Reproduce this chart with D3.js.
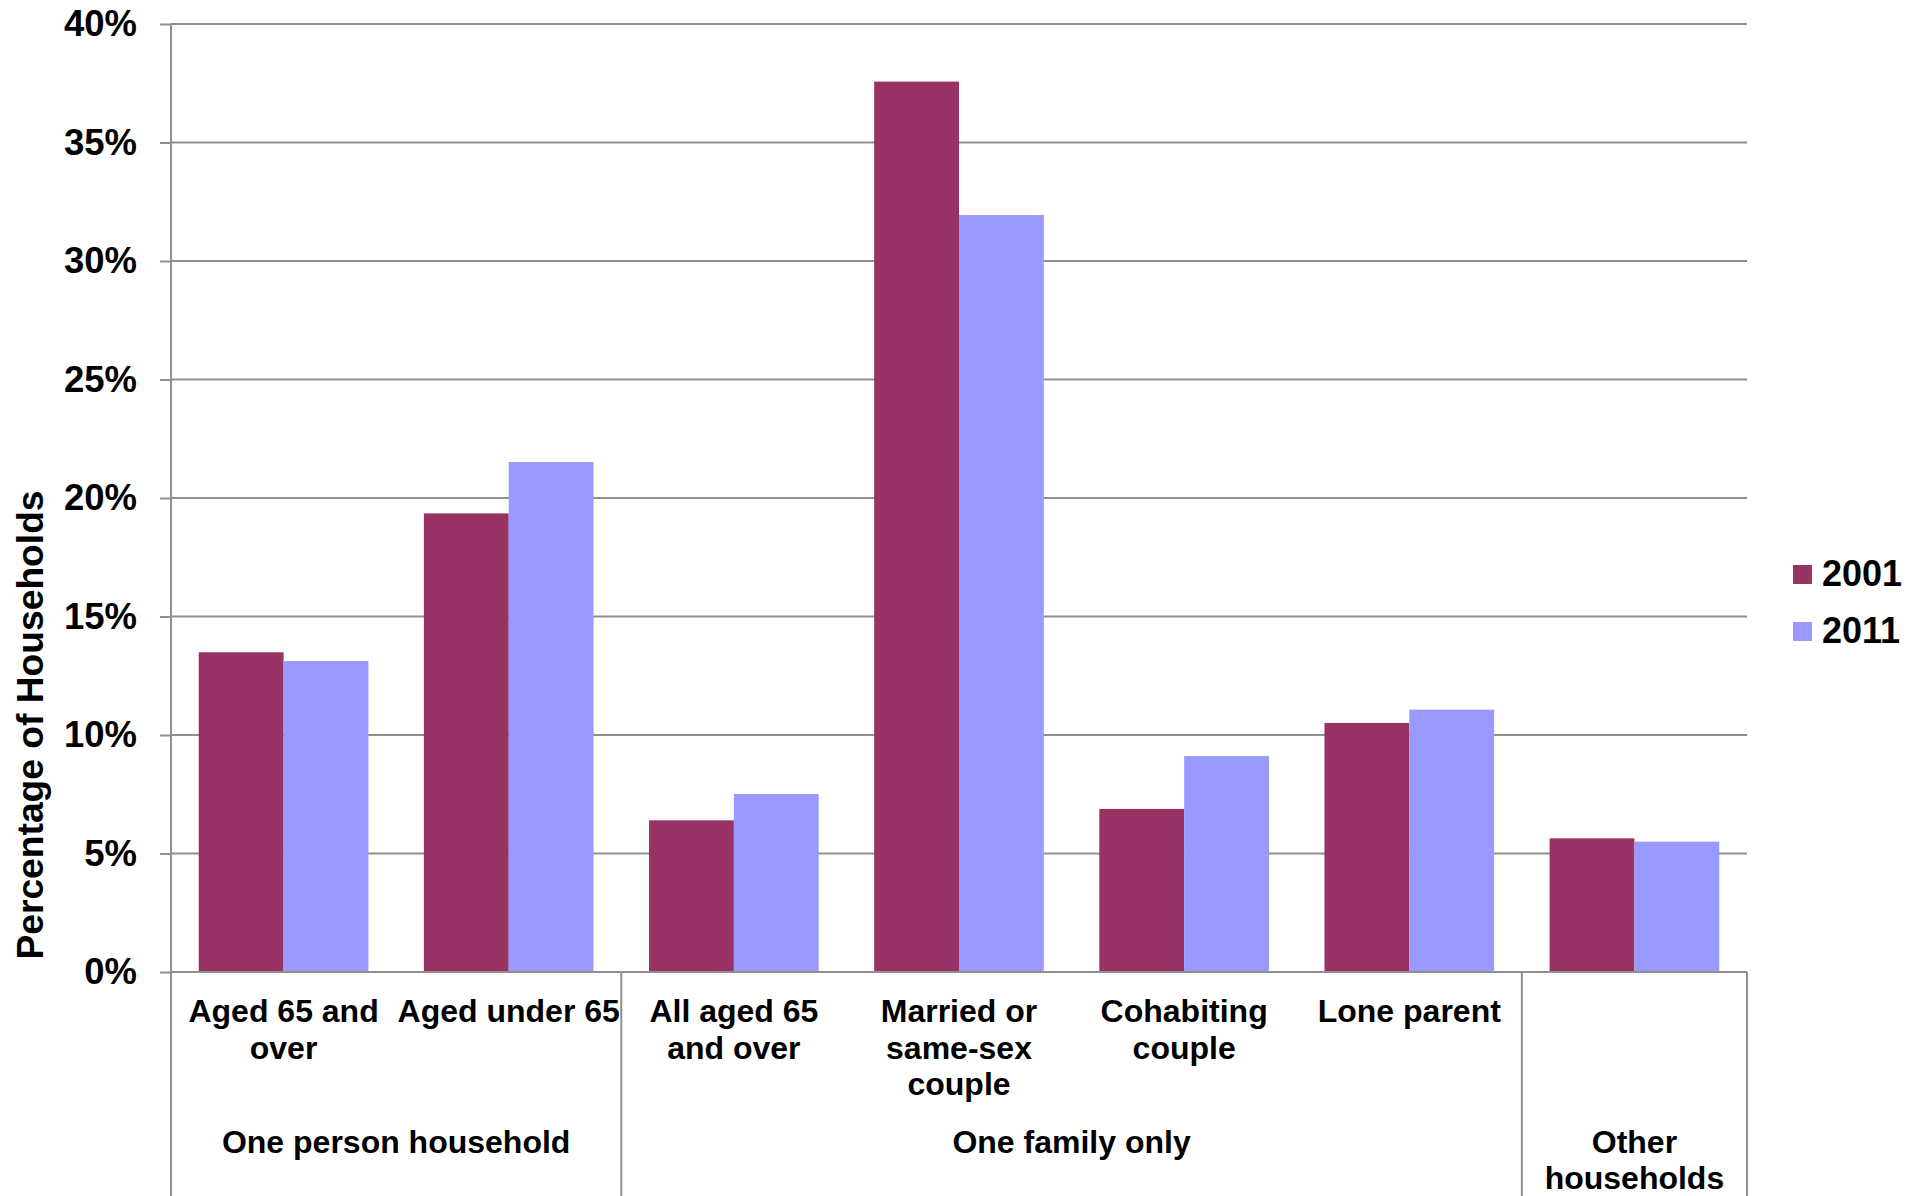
<!DOCTYPE html>
<html>
<head>
<meta charset="utf-8">
<script src="https://cdn.jsdelivr.net/npm/d3@7"></script>
<style>
  html, body { margin: 0; padding: 0; background: #fff; }
  svg { display: block; }
  text { font-family: "Liberation Sans", Arial, sans-serif; font-weight: bold; fill: #000; }
</style>
</head>
<body>
<svg id="chart" width="1927" height="1196"></svg>
<script>
// ---- data ----
const categories = ["Aged 65 and\nover", "Aged under 65", "All aged 65\nand over", "Married or\nsame-sex\ncouple", "Cohabiting\ncouple", "Lone parent", ""];
const groupNames = ["One person household", "One family only", "Other\nhouseholds"];
const groupSizes = [2, 4, 1];
const seriesNames = ["2001", "2011"];
const values2001 = [13.49, 19.35, 6.40, 37.57, 6.88, 10.51, 5.64];
const values2011 = [13.12, 21.52, 7.51, 31.94, 9.11, 11.07, 5.50];
const yTicks = [0, 5, 10, 15, 20, 25, 30, 35, 40];
const colors = ["#993366", "#9999FF"];

(function () {
// ---- layout ----
const svg = d3.select("#chart");
const pL = 171, pR = 1747, pT = 24, pB = 972, H = 1196;
const gridColor = "#8f8f8f";

const x0 = d3.scaleBand().domain(d3.range(categories.length)).range([pL, pR]).padding(0);
const x1 = d3.scaleBand().domain(seriesNames).range([0, x0.bandwidth()]).paddingInner(0).paddingOuter(0.327);
const y = d3.scaleLinear().domain([0, 40]).range([pB, pT]);

// gridlines
svg.append("g").selectAll("line").data(yTicks).join("line")
  .attr("x1", pL).attr("x2", pR)
  .attr("y1", d => y(d)).attr("y2", d => y(d))
  .attr("stroke", gridColor).attr("stroke-width", 2);

// bars
const rows = categories.map((c, i) => ({ i, vals: [values2001[i], values2011[i]] }));
const gBars = svg.append("g");
rows.forEach(r => {
  r.vals.forEach((v, s) => {
    gBars.append("rect")
      .attr("x", x0(r.i) + x1(seriesNames[s]))
      .attr("y", y(v))
      .attr("width", x1.bandwidth())
      .attr("height", y(0) - y(v))
      .attr("fill", colors[s]);
  });
});

// y axis
const yAxis = d3.axisLeft(y).tickValues(yTicks).tickFormat(d => d + "%").tickSize(11).tickPadding(23);
const gy = svg.append("g").attr("transform", `translate(${pL},0)`).call(yAxis);
gy.select(".domain").attr("stroke", gridColor).attr("stroke-width", 2).attr("d", `M0,${pT}V${pB}`);
gy.selectAll(".tick line").attr("stroke", gridColor).attr("stroke-width", 2);
gy.selectAll(".tick text")
  .style("font-family", '"Liberation Sans", Arial, sans-serif')
  .style("font-weight", "bold").style("font-size", "36.5px").attr("fill", "#000");

// bottom axis line
svg.append("line").attr("x1", pL).attr("x2", pR).attr("y1", pB).attr("y2", pB)
  .attr("stroke", gridColor).attr("stroke-width", 2);

// group separators
const bounds = [0];
groupSizes.forEach(s => bounds.push(bounds[bounds.length - 1] + s));
svg.append("g").selectAll("line").data(bounds).join("line")
  .attr("x1", d => d < categories.length ? x0(d) : pR)
  .attr("x2", d => d < categories.length ? x0(d) : pR)
  .attr("y1", pB).attr("y2", H)
  .attr("stroke", gridColor).attr("stroke-width", 2);

// category labels
const lineH = 36.5;
const gCat = svg.append("g");
categories.forEach((c, i) => {
  const cx = x0(i) + x0.bandwidth() / 2;
  const t = gCat.append("text").attr("text-anchor", "middle").style("font-size", "32px");
  c.split("\n").forEach((ln, k) => {
    if (!ln) return;
    t.append("tspan").attr("x", cx).attr("y", 1022 + k * lineH).text(ln);
  });
});

// group labels
groupNames.forEach((g, gi) => {
  const a = bounds[gi], b = bounds[gi + 1];
  const xa = x0(a), xb = b < categories.length ? x0(b) : pR;
  const cx = (xa + xb) / 2;
  const t = svg.append("text").attr("text-anchor", "middle").style("font-size", "32px");
  g.split("\n").forEach((ln, k) => {
    t.append("tspan").attr("x", cx).attr("y", 1152.5 + k * lineH).text(ln);
  });
});

// y title
svg.append("text")
  .attr("transform", "translate(43,725) rotate(-90)")
  .attr("text-anchor", "middle")
  .style("font-size", "37.2px")
  .text("Percentage of Households");

// legend
const leg = svg.append("g");
seriesNames.forEach((s, i) => {
  leg.append("rect").attr("x", 1793).attr("y", 565 + i * 57).attr("width", 19).attr("height", 19).attr("fill", colors[i]);
  leg.append("text").attr("x", 1822).attr("y", 586 + i * 57).style("font-size", "36px").text(s);
});
})();
</script>
</body>
</html>
